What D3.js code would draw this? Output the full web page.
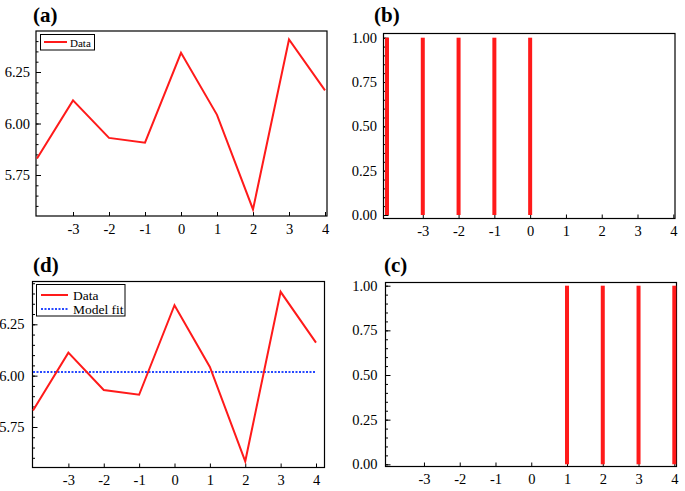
<!DOCTYPE html>
<html>
<head>
<meta charset="utf-8">
<title></title>
<script src="https://d3js.org/d3.v7.min.js"></script>
<style>
  body { margin: 0; background: #fff; }
  svg text { font-family: "Liberation Serif", "Times New Roman", serif; }
</style>
</head>
<body>
<div id="my_dataviz"></div>
<script>
// data
var xs = [-4, -3, -2, -1, 0, 1, 2, 3, 4];
var dataValues = [5.83, 6.112, 5.93, 5.907, 6.343, 6.042, 5.583, 6.408, 6.161];
var modelFit = 6.018;
var bIndicator = [1, 1, 1, 1, 1, 0, 0, 0, 0];
var cIndicator = [0, 0, 0, 0, 0, 1, 1, 1, 1];
var xTicks = [-3, -2, -1, 0, 1, 2, 3, 4];
var yTicksData = [5.75, 6.00, 6.25];
var yTicksInd = [0, 0.25, 0.5, 0.75, 1];

var svg = d3.select("#my_dataviz")
  .append("svg")
    .attr("width", 685)
    .attr("height", 491);

// panel layouts (pixel frame + scale anchors)
var panels = [
  {id: "a", box: [36, 31, 327, 216], xr: [37, 325], yd: [5.75, 6.25], yr: [175, 72], lab: [33, 22], ypad: 6},
  {id: "b", box: [383.5, 33.5, 675, 218.5], xr: [387, 673.3], yd: [0, 1], yr: [215, 37.7], lab: [374, 22], ypad: 6.5},
  {id: "d", box: [32.5, 281.5, 324.5, 467.5], xr: [33, 316], yd: [5.75, 6.25], yr: [427, 324.3], lab: [33, 272], ypad: 8},
  {id: "c", box: [385.5, 282.5, 676.5, 466.5], xr: [388.2, 674.3], yd: [0, 1], yr: [464.3, 285.7], lab: [384, 272], ypad: 8}
];

function drawPanel(p) {
  var g = svg.append("g");
  var x = d3.scaleLinear().domain([-4, 4]).range(p.xr);
  var y = d3.scaleLinear().domain(p.yd).range(p.yr);
  var isData = p.id == "a" || p.id == "d";

  // minor y ticks every 0.05 inside the frame
  var lo = y.invert(p.box[3]), hi = y.invert(p.box[1]);
  var minor = d3.range(Math.ceil(lo / 0.05 - 1e-6), Math.floor(hi / 0.05 + 1e-6) + 1).map(function(k) { return +(k * 0.05).toFixed(2); });

  g.append("g")
    .attr("transform", "translate(" + p.box[0] + ",0)")
    .call(d3.axisLeft(y).tickValues(minor).tickSize(-2.5).tickFormat(""))
    .call(function(s) { s.select(".domain").remove(); });

  var yAx = g.append("g")
    .attr("transform", "translate(" + p.box[0] + ",0)")
    .call(d3.axisLeft(y).tickValues(isData ? yTicksData : yTicksInd).tickSize(-5).tickPadding(p.ypad).tickFormat(d3.format(".2f")));
  yAx.select(".domain").remove();

  var xAx = g.append("g")
    .attr("transform", "translate(0," + p.box[3] + ")")
    .call(d3.axisBottom(x).tickValues(xTicks).tickSize(-4).tickPadding(7.5).tickFormat(function(d) { return String(d); }));
  xAx.select(".domain").remove();

  g.selectAll("g").attr("font-family", null);
  g.selectAll(".tick text")
    .style("font-family", "'Liberation Serif', serif")
    .style("font-size", "14.5px")
    .attr("fill", "#000");
  g.selectAll(".tick line").attr("stroke", "#000");

  // frame
  g.append("rect")
    .attr("x", p.box[0]).attr("y", p.box[1])
    .attr("width", p.box[2] - p.box[0]).attr("height", p.box[3] - p.box[1])
    .attr("fill", "none").attr("stroke", "#000").attr("stroke-width", 1.2);

  if (isData) {
    if (p.id == "d") {
      g.append("line")
        .attr("x1", x(-4)).attr("x2", x(4))
        .attr("y1", y(modelFit)).attr("y2", y(modelFit))
        .attr("stroke", "#2648ff").attr("stroke-width", 2)
        .attr("stroke-dasharray", "2,1.5");
    }
    var line = d3.line()
      .x(function(d, i) { return x(xs[i]); })
      .y(function(d) { return y(d); });
    g.append("path")
      .datum(dataValues)
      .attr("d", line)
      .attr("fill", "none")
      .attr("stroke", "#ff1a1a")
      .attr("stroke-width", 2);
  } else {
    var ind = p.id == "b" ? bIndicator : cIndicator;
    g.selectAll(".bar")
      .data(xs.filter(function(d, i) { return ind[i] > 0; }))
      .enter()
      .append("rect")
        .attr("x", function(d) { return x(d) - 2; })
        .attr("width", 4)
        .attr("y", y(1))
        .attr("height", y(0) - y(1))
        .attr("fill", "#ff1a1a");
  }

  // panel label
  svg.append("text")
    .attr("x", p.lab[0]).attr("y", p.lab[1])
    .attr("font-size", 21).attr("font-weight", "bold")
    .text("(" + p.id + ")");
}

panels.forEach(drawPanel);

// legend (a)
var la = svg.append("g");
la.append("rect").attr("x", 40.5).attr("y", 34.5).attr("width", 54).attr("height", 15.5)
  .attr("fill", "#fff").attr("stroke", "#000").attr("stroke-width", 1);
la.append("line").attr("x1", 44).attr("x2", 67).attr("y1", 42).attr("y2", 42)
  .attr("stroke", "#ff1a1a").attr("stroke-width", 2);
la.append("text").attr("x", 70).attr("y", 46.5).attr("font-size", 11).text("Data");

// legend (d)
var ld = svg.append("g");
ld.append("rect").attr("x", 36.5).attr("y", 284.5).attr("width", 88.5).attr("height", 31.5)
  .attr("fill", "#fff").attr("stroke", "#000").attr("stroke-width", 1);
ld.append("line").attr("x1", 41).attr("x2", 68).attr("y1", 295).attr("y2", 295)
  .attr("stroke", "#ff1a1a").attr("stroke-width", 2);
ld.append("line").attr("x1", 41).attr("x2", 68).attr("y1", 309).attr("y2", 309)
  .attr("stroke", "#2648ff").attr("stroke-width", 2).attr("stroke-dasharray", "2,1.5");
ld.append("text").attr("x", 73).attr("y", 299.5).attr("font-size", 13.5).text("Data");
ld.append("text").attr("x", 73).attr("y", 313.5).attr("font-size", 13.5).text("Model fit");
</script>
</body>
</html>
